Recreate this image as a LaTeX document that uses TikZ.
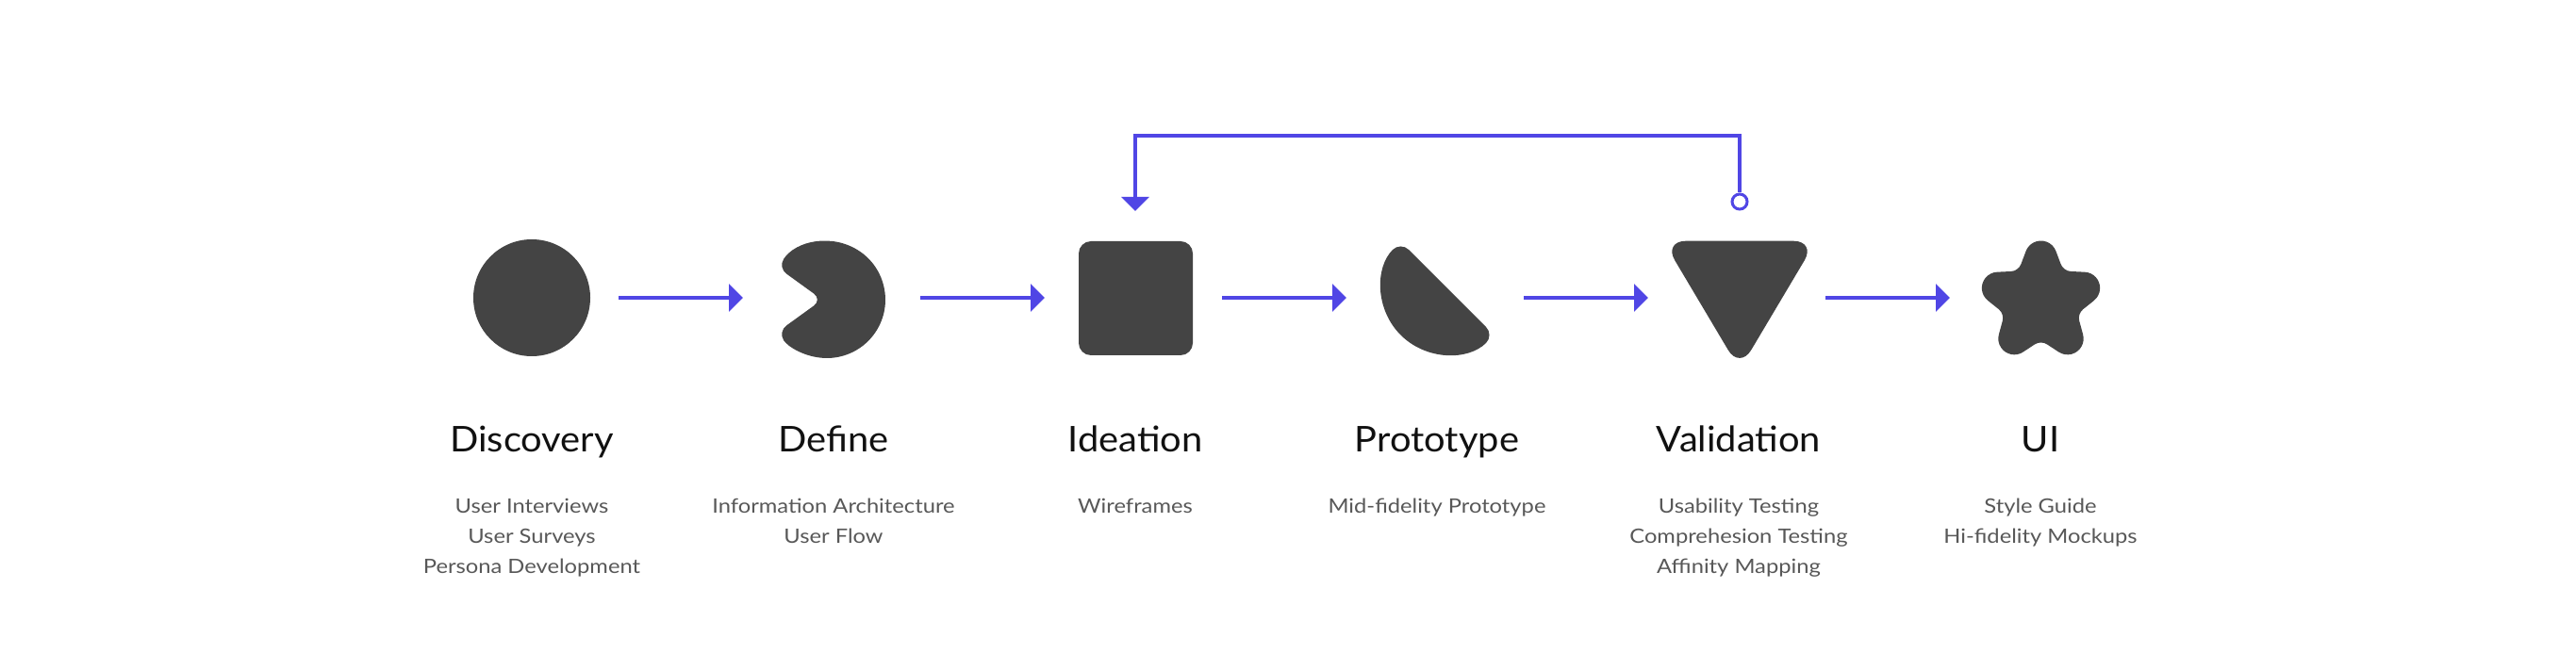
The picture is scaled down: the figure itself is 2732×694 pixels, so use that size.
\documentclass[tikz,border=0pt]{standalone}
\usepackage{fontspec}
\setmainfont{Lato}
\newfontfamily\ttlfont[FakeStretch=1.06]{Lato}
\newfontfamily\subfont[FakeStretch=1.13]{Lato}
\usetikzlibrary{arrows.meta}
\definecolor{shpc}{HTML}{444444}
\definecolor{blu}{HTML}{5046E5}
\definecolor{ttlc}{HTML}{111111}
\definecolor{subc}{HTML}{585858}
\begin{document}
\begin{tikzpicture}[x=0.5pt,y=-0.5pt,
  shp/.style={fill=shpc},
  arr/.style={draw=blu, line width=2pt, -{Triangle[length=7.5pt,width=14.5pt]}},
  hit/.style={minimum width=92pt, minimum height=62pt, inner sep=0pt, outer sep=0pt},
  ttl/.style={anchor=base, inner sep=0pt, text=ttlc, font=\ttlfont\fontsize{18.8pt}{22pt}\selectfont},
  sub/.style={anchor=base, inner sep=0pt, text=subc, font=\subfont\fontsize{10.5pt}{13pt}\selectfont},
  fbc/.style={circle, draw=blu, fill=white, line width=1.5pt, minimum size=8pt, inner sep=0pt}]
\path[use as bounding box, fill=white] (0,0) rectangle (2732,694);

% invisible step boxes
\node[hit] (disc) at (564,316) {};
\node[hit] (def) at (884,316) {};
\node[hit] (idea) at (1204,316) {};
\node[hit] (proto) at (1524,316) {};
\node[hit] (val) at (1844,316) {};
\node[hit] (ui) at (2164,316) {};

% shapes
\fill[shp] (564,316) circle[radius=62];
\fill[shp, rounded corners=5.5pt] (848.55,301) -- (825.1,284.05) arc[start angle=-146.8, end angle=146.8, radius=62] -- (872,318) -- cycle;
\fill[shp, rounded corners=6.5pt] (1144,256) rectangle (1265,377);
\fill[shp, rounded corners=6pt] (1535,306) -- (1584.5,355.5) arc[start angle=45, end angle=225, radius=70] -- cycle;
\fill[shp, rounded corners=12pt] (1845,255.7) -- (1926,255.7) -- (1845,392) -- (1764,255.7) -- cycle;
\fill[shp, shift={(2164.5,320.5)}] (-106.41:56.3)
  \foreach \a in {0,72,144,216,288}{
    arc[start angle=-159.31+\a, end angle=-20.69+\a, radius=17]
    -- (-62.34+\a:45.45)
    arc[start angle=159.31+\a, end angle=92.69+\a, radius=12]
    -- (-34.41+\a:56.3)
  } -- cycle;

% connectors
\draw[arr, shorten >=2pt] (disc.east) -- (def.west);
\draw[arr, shorten >=2pt] (def.east) -- (idea.west);
\draw[arr, shorten >=2pt] (idea.east) -- (proto.west);
\draw[arr, shorten >=2pt] (proto.east) -- (val.west);
\draw[arr, shorten >=2pt] (val.east) -- (ui.west);

\coordinate (loopTop) at (1204,144);
\coordinate (ideaTop) at (1204,224);
\node[fbc] (fb) at (1845,214) {};
\draw[arr] (fb.north) |- (loopTop) -- (ideaTop);

% titles
\node[ttl] (t1) at (564,480) {Discovery};
\node[ttl] (t2) at (884,480) {Define};
\node[ttl] (t3) at (1204,480) {Ideation};
\node[ttl] (t4) at (1524,480) {Prototype};
\node[ttl] (t5) at (1844,480) {Validation};
\node[ttl] (t6) at (2164,480) {UI};

% sub items
\node[sub] (s1a) at (564,545) {User Interviews};
\node[sub] (s1b) at (564,576.7) {User Surveys};
\node[sub] (s1c) at (564,608.3) {Persona Development};
\node[sub] (s2a) at (884,545) {Information Architecture};
\node[sub] (s2b) at (884,576.7) {User Flow};
\node[sub] (s3a) at (1204,545) {Wireframes};
\node[sub] (s4a) at (1524,545) {Mid-fidelity Prototype};
\node[sub] (s5a) at (1844,545) {Usability Testing};
\node[sub] (s5b) at (1844,576.7) {Comprehesion Testing};
\node[sub] (s5c) at (1844,608.3) {Affinity Mapping};
\node[sub] (s6a) at (2164,545) {Style Guide};
\node[sub] (s6b) at (2164,576.7) {Hi-fidelity Mockups};
\end{tikzpicture}
\end{document}
